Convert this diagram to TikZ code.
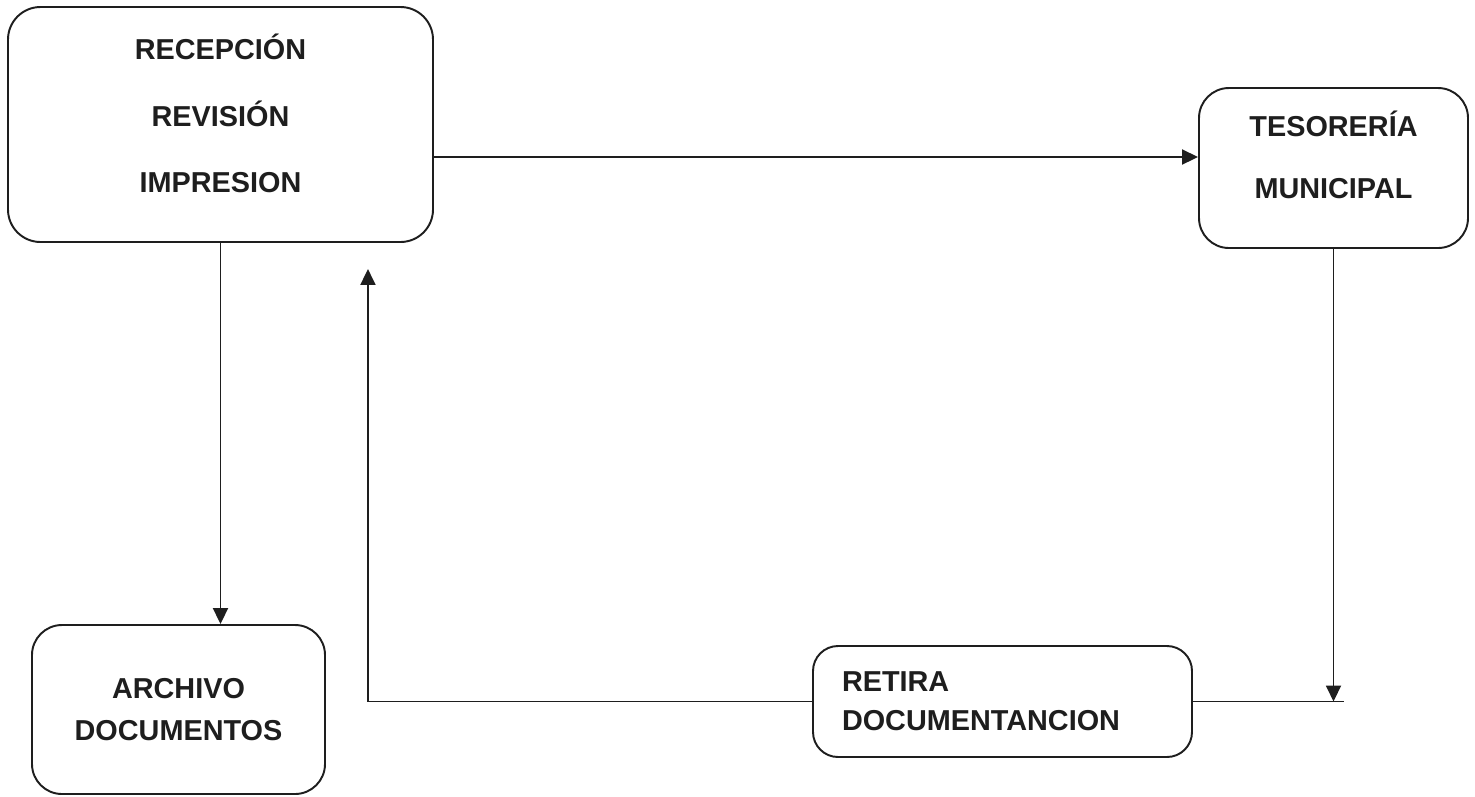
\documentclass[tikz,border=0pt]{standalone}
\usepackage{fontspec}
\setmainfont{Liberation Sans}
\usetikzlibrary{arrows.meta}
\definecolor{ink}{HTML}{1E1E1E}

\begin{document}
\begin{tikzpicture}[line width=1.1pt, draw=ink, text=ink,
        >={Triangle[length=0.32cm,width=0.3cm]},
        box/.style={draw=ink, rounded corners=0.65cm, align=center,
            font=\bfseries\fontsize{16.4}{24}\selectfont}]
      \useasboundingbox (0,0) rectangle (29.5,-15.92);
      \node[box, minimum width=8.5cm, minimum height=4.7cm,
            label={[yshift=0.22cm, align=center,
                    font=\bfseries\fontsize{16.4}{38}\selectfont]
                   center:RECEPCIÓN\\REVISIÓN\\IMPRESION}]
            (REC) at (4.41,-2.49) {};
      \node[box, minimum width=5.38cm, minimum height=3.2cm, rounded corners=0.6cm,
            label={[yshift=0.26cm, align=center,
                    font=\bfseries\fontsize{16.4}{35}\selectfont]
                   center:TESORERÍA\\MUNICIPAL}]
            (TES) at (26.67,-3.36) {};
      \node[box, minimum width=5.86cm, minimum height=3.38cm, rounded corners=0.6cm]
            (ARCH) at (3.57,-14.19) {ARCHIVO\\DOCUMENTOS};
      \node[box, align=left, text width=6.42cm, inner xsep=0.58cm,
            minimum height=2.22cm, rounded corners=0.5cm,
            font=\bfseries\fontsize{16.4}{22}\selectfont]
            (RET) at (20.05,-14.03) {RETIRA\\DOCUMENTANCION};
      \draw[->] ([yshift=-0.65cm]REC.east) -- ([yshift=-0.65cm]REC.east -| TES.west);
      \draw[->] (REC.south) -- (REC.south |- ARCH.north);
      \draw[->] (TES.south) -- (TES.south |- RET.east);
      \coordinate (tail) at ([xshift=0.2cm]TES.south |- RET.east);
      \draw (RET.east) -- (tail);
      \coordinate (back) at ([xshift=-1.32cm,yshift=-0.52cm]REC.south east);
      \draw[->] (RET.west) -| (back);
    \end{tikzpicture}
\end{document}
